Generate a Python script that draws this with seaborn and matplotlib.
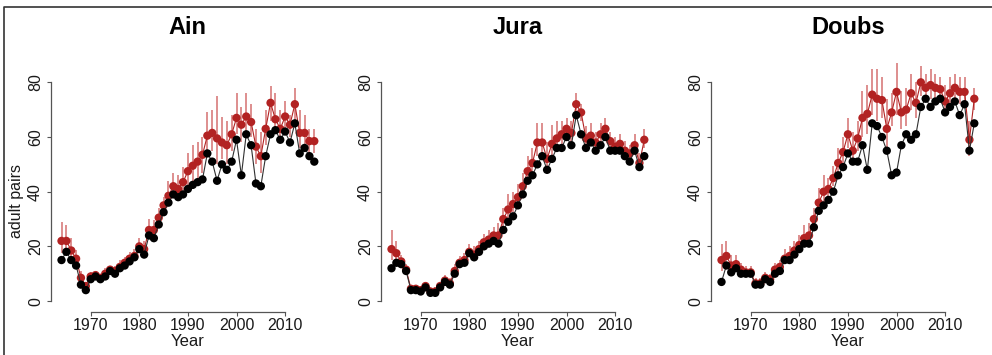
import matplotlib
matplotlib.use("Agg")
import matplotlib.pyplot as plt
from matplotlib.lines import Line2D
import seaborn as sns
import pandas as pd

years = list(range(1964, 2017))
panels = ["Ain", "Jura", "Doubs"]

ain_obs = [15, 18, 15, 13, 6, 4, 8, 9, 8, 9, 11, 10, 12, 13, 14.5, 16, 19, 17, 24, 23,
           28, 32.5, 36, 39, 38, 39, 41, 42.5, 43.5, 44.5, 54, 51, 44, 50, 48, 51, 59, 46,
           61, 57, 43, 42, 53, 61, 62.5, 59, 62, 58, 65, 54, 56, 53, 51]
ain_est = [22, 22, 18.5, 15.5, 8.5, 5.5, 9, 9.5, 8.5, 10, 11.5, 11, 12.5, 14, 15.5, 16.5, 20, 19,
           26, 26, 30.5, 35, 38.5, 42, 41, 43.5, 47.5, 49.5, 51, 53.5, 60.5, 61.5, 59.5, 58, 57, 61,
           67, 64.5, 67.5, 65.5, 56.5, 53, 63, 72.5, 66.5, 63, 67.5, 64.5, 72, 61.5, 61.5, 58.5, 58.5]
ain_lo = [17.5, 18, 15.5, 13, 6.5, 4.5, 8, 8.5, 7.5, 8.5, 10, 9.5, 11, 12.5, 14, 15, 18, 17, 23,
          23.5, 28, 33, 35, 38.5, 38, 39.5, 42, 44, 45, 47, 55, 55, 50, 52, 50, 55, 61, 58, 62,
          60, 50, 47, 57, 66, 62, 59, 63, 60, 66, 56, 57, 54, 54]
ain_hi = [29, 28, 23, 18.5, 11, 7, 10.5, 11, 10, 12, 13, 13, 15, 16, 18, 19, 23, 22, 30, 29.5,
          34, 38, 44, 47, 46, 49, 54, 57, 58, 60, 69, 70, 75, 67.5, 66, 68, 76, 71, 76, 72, 63,
          62, 70, 78.5, 76, 70, 73, 68, 78, 70, 68, 63, 63]

jura_obs = [12, 14, 13.5, 11, 4, 4, 3.5, 5, 3, 3, 5, 7, 6, 10, 13.5, 14, 17.5, 16, 18, 20,
            21, 22, 21, 26, 29, 31, 35, 39, 44, 46, 50, 53, 48, 52, 56, 56, 60, 57, 68, 61,
            56, 58, 55, 57, 60, 55, 55, 55, 53, 51, 55, 49, 53]
jura_est = [19, 17.5, 14.5, 11.5, 4.5, 4.5, 4, 5.5, 3.5, 3.5, 5.5, 7.5, 6.5, 11, 14, 15, 18, 17,
            19, 21.5, 22.5, 24, 24, 30, 33.5, 35.5, 38, 42, 47.5, 50.5, 58, 58, 52, 57.5, 59.5,
            61, 63, 61.5, 72, 69, 59.5, 60.5, 58, 61, 63, 58.5, 56.5, 57.5, 55, 54, 57, 50.5, 59]
jura_lo = [15, 14.5, 12.5, 10, 3.5, 3.5, 3, 4.5, 2.5, 2.5, 4.5, 6.5, 5.5, 9.5, 12.5, 13.5, 16,
           15, 17, 19.5, 20.5, 22, 21.5, 27, 30, 32.5, 35, 39, 44, 47, 53, 53, 48.5, 53, 55.5,
           57.5, 60, 58, 69, 66, 56, 57, 55.5, 58, 60, 56, 54.5, 55, 53, 52, 54.5, 48.5, 56]
jura_hi = [26, 22, 17, 13.5, 6, 6, 5.5, 7, 5, 5, 7, 9.5, 8.5, 13.5, 16.5, 17.5, 21, 20, 22,
           24.5, 26, 27, 28.5, 34, 39, 40, 43, 47, 53, 56, 65, 65, 58, 64.5, 66, 66, 67, 66,
           76, 72, 64, 65, 62, 65, 67, 62, 60, 61, 58.5, 57, 61, 54, 63]

doubs_obs = [7, 13, 10.5, 12, 10, 10, 10, 6, 6, 8, 7, 10, 11, 15, 15, 17, 19, 21, 21, 27,
             33, 35, 37, 40, 46, 49, 54, 51, 51, 57, 48, 65, 64, 60, 55, 46, 47, 57, 61, 59,
             61, 71, 74, 71, 73, 74, 69, 71, 73, 68, 72, 55, 65]
doubs_est = [15, 16.5, 13, 13.5, 11.5, 10.5, 10.5, 6.5, 6.5, 8.5, 8, 11.5, 12.5, 15.5, 16.5,
             18.5, 20.5, 23, 24, 30, 36, 40, 41, 45, 50.5, 54.5, 61, 55, 59.5, 67, 68.5, 75.5,
             74, 73.5, 63, 69, 76.5, 69, 70, 76, 72.5, 80, 78, 79, 78, 77.5, 73, 76, 78, 76.5,
             76.5, 59, 74]
doubs_lo = [11, 12, 10.5, 11, 9.5, 9, 9, 5.5, 5.5, 7.5, 7, 10, 11, 13.5, 14.5, 16.5, 18.5, 20,
            21, 27, 32, 36, 38, 42, 46.5, 50.5, 56, 50, 55, 60, 61, 68, 66, 67, 56, 64, 68, 63,
            64, 70, 67, 75, 74, 74, 74, 74, 69, 72, 74, 72, 72, 53, 70]
doubs_hi = [21, 22, 17, 17, 14, 13, 13, 8.5, 8.5, 10.5, 10, 14, 15, 19, 20, 22, 24, 28, 28.5,
            34, 41.5, 46, 45, 49.5, 56, 60, 67, 62, 66, 77, 79, 85, 85, 82, 74, 76, 87, 77, 78,
            83, 80, 86, 83, 85, 83, 82, 79, 82, 83, 82, 82, 66, 78]

obs = [ain_obs, jura_obs, doubs_obs]
est = [ain_est, jura_est, doubs_est]
los = [ain_lo, jura_lo, doubs_lo]
his = [ain_hi, jura_hi, doubs_hi]

xticks = [1970, 1980, 1990, 2000, 2010]
yticks = [0, 20, 40, 60, 80]

sns.set_style("white")
plt.rcParams["font.family"] = ["Liberation Sans", "DejaVu Sans"]

W, H = 992, 355
fig = plt.figure(figsize=(W / 100, H / 100), dpi=100)

red = "#b22222"
bar_col = (0.78, 0.25, 0.25, 0.75)
axis_col = "#555555"
txt_col = "#1a1a1a"

lefts = [51.4, 381.4, 711.4]
ax_w = 273
top_px, bot_px = 55, 312

for i, name in enumerate(panels):
    ax = fig.add_axes([lefts[i] / W, 1 - bot_px / H, ax_w / W, (bot_px - top_px) / H])
    df = pd.DataFrame({"year": years, "obs": obs[i], "est": est[i], "lo": los[i], "hi": his[i]})
    ax.vlines(df["year"], df["lo"], df["hi"], color=bar_col, lw=1.1, zorder=1)
    sns.lineplot(data=df, x="year", y="est", ax=ax, color=red, lw=0.8, zorder=2)
    sns.scatterplot(data=df, x="year", y="est", ax=ax, color=red, s=36, edgecolor="none",
                    zorder=3)
    sns.lineplot(data=df, x="year", y="obs", ax=ax, color="#303030", lw=0.8, zorder=4)
    sns.scatterplot(data=df, x="year", y="obs", ax=ax, color="black", s=36, edgecolor="none",
                    zorder=5)

    ax.set_xlim(1961.92, 2018.08)
    ax.set_ylim(-4, 90)
    for s in ["top", "right"]:
        ax.spines[s].set_visible(False)
    ax.spines["left"].set_bounds(0, 80)
    ax.spines["bottom"].set_bounds(1970, 2010)
    for s in ["left", "bottom"]:
        ax.spines[s].set_color(axis_col)
        ax.spines[s].set_linewidth(0.9)
    ax.set_xticks(xticks)
    ax.set_yticks(yticks)
    ax.set_xticklabels([str(t) for t in xticks])
    ax.set_yticklabels([str(t) for t in yticks], rotation=90, va="center")
    ax.tick_params(axis="both", length=3, width=0.8, color=axis_col, labelsize=11.5,
                   labelcolor=txt_col, bottom=True, left=True)
    ax.tick_params(axis="x", pad=1.5)
    ax.tick_params(axis="y", pad=3)

    ax.set_xlabel("Year", fontsize=12, color=txt_col, va="center")
    ax.xaxis.set_label_coords(0.5, -30 / (bot_px - top_px))
    if i == 0:
        ax.set_ylabel("adult pairs", fontsize=11.5, color=txt_col, va="center")
        ax.yaxis.set_label_coords((17 - lefts[0]) / ax_w, (bot_px - 201) / (bot_px - top_px))
    else:
        ax.set_ylabel("")
    ax.set_title(name, fontsize=17, fontweight="bold", color="black",
                 y=(bot_px - 27) / (bot_px - top_px), pad=0, va="center")

fig.add_artist(Line2D([4 / W, 4 / W, 1], [0, 1 - 7 / H, 1 - 7 / H],
                      transform=fig.transFigure, color="#333333", lw=1.2))

fig.savefig("out.png", dpi=100)
